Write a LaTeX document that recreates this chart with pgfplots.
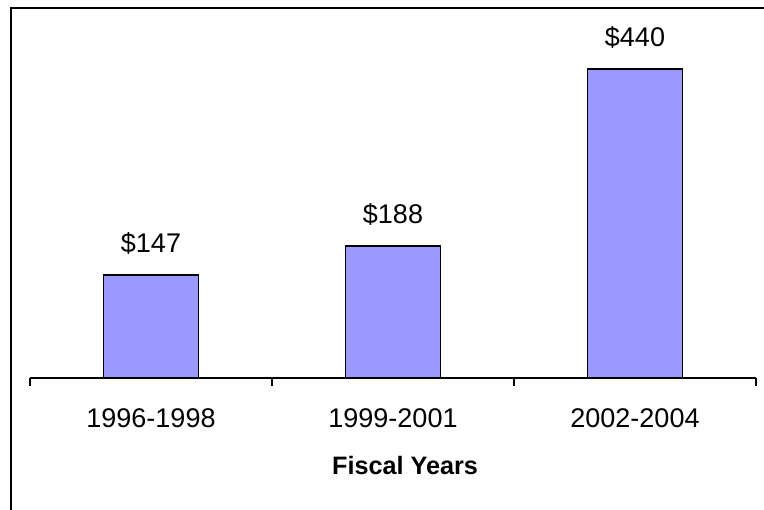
\documentclass[border=0pt]{standalone}
\usepackage{pgfplots}
\pgfplotsset{compat=1.18}
\usepackage{fontspec}
\setmainfont{Liberation Sans}
\definecolor{barblue}{HTML}{9999FF}
\begin{document}
\begin{tikzpicture}[x=1pt,y=1pt]
\useasboundingbox (0,0) rectangle (764,510);
\draw[line width=1.6pt] (11,0) -- (11,502) -- (764,502);
\begin{axis}[
  at={(30pt,132pt)}, anchor=south west,
  scale only axis, width=726pt, height=351pt,
  xmin=0.5, xmax=3.5, ymin=0, ymax=500,
  axis x line*=bottom, axis y line=none,
  x axis line style={line width=1.2pt, -},
  xtick={0.5,1.5,2.5,3.5},
  xticklabels={},
  tick align=outside,
  major tick length=8pt,
  x tick style={line width=1.2pt, black},
  extra x ticks={1,2,3},
  extra x tick labels={1996-1998,1999-2001,2002-2004},
  extra x tick style={major tick length=0pt},
  ytick=\empty,
  xticklabel style={font=\fontsize{27}{32}\selectfont, yshift=-27pt},
  xlabel={Fiscal Years},
  xlabel style={font=\fontsize{25.2}{30}\selectfont\bfseries, at={(axis description cs:0.5,0)}, anchor=center, yshift=-88pt, xshift=12pt},
  /pgf/number format/assume math mode=true,
  nodes near coords={\$\pgfmathprintnumber{\pgfplotspointmeta}},
  every node near coord/.append style={font=\fontsize{27}{32}\selectfont, anchor=south, inner sep=0pt, yshift=20pt, black},
  point meta=y,
]
\addplot[ybar, bar width=95pt, bar shift=0pt, fill=barblue, draw=black, line width=1.6pt]
  coordinates {(1,147) (2,188) (3,440)};
\end{axis}
\end{tikzpicture}
\end{document}
